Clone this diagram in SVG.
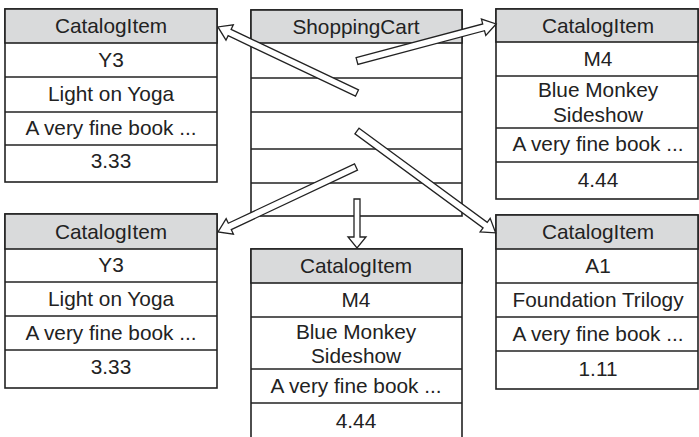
<svg xmlns="http://www.w3.org/2000/svg" width="699" height="437" viewBox="0 0 699 437">
<style>
.box{fill:#fff;stroke:#222;stroke-width:1.6}
.hdr{fill:#d9dadb;stroke:#222;stroke-width:1.6}
.ln{stroke:#222;stroke-width:1.6}
text{font-family:"Liberation Sans",Arial,sans-serif;font-size:20.8px;fill:#222;text-anchor:middle}
.arr{fill:#fff;stroke:#222;stroke-width:1.3;stroke-linejoin:miter}
</style>
<rect width="699" height="437" fill="#fff"/>

<g id="item-top-left">
<rect class="box" x="5" y="9" width="212" height="173"/>
<rect class="hdr" x="5" y="9" width="212" height="34"/>
<line class="ln" x1="5" y1="77" x2="217" y2="77"/>
<line class="ln" x1="5" y1="112" x2="217" y2="112"/>
<line class="ln" x1="5" y1="145" x2="217" y2="145"/>
<text x="111" y="33">CatalogItem</text>
<text x="111" y="67">Y3</text>
<text x="111" y="101">Light on Yoga</text>
<text x="111" y="135">A very fine book ...</text>
<text x="111" y="168">3.33</text>
</g>

<g id="shopping-cart">
<rect class="box" x="251" y="10" width="211" height="206"/>
<rect class="hdr" x="251" y="10" width="211" height="33"/>
<line class="ln" x1="251" y1="78" x2="462" y2="78"/>
<line class="ln" x1="251" y1="112" x2="462" y2="112"/>
<line class="ln" x1="251" y1="149" x2="462" y2="149"/>
<line class="ln" x1="251" y1="183" x2="462" y2="183"/>
<text x="356" y="34">ShoppingCart</text>
</g>

<g id="item-top-right">
<rect class="box" x="496" y="9" width="202" height="190"/>
<rect class="hdr" x="496" y="9" width="202" height="33"/>
<line class="ln" x1="496" y1="76" x2="698" y2="76"/>
<line class="ln" x1="496" y1="128" x2="698" y2="128"/>
<line class="ln" x1="496" y1="162" x2="698" y2="162"/>
<text x="598" y="33">CatalogItem</text>
<text x="598" y="66">M4</text>
<text x="598" y="97">Blue Monkey</text>
<text x="598" y="122">Sideshow</text>
<text x="598" y="151">A very fine book ...</text>
<text x="598" y="187">4.44</text>
</g>

<g id="item-bottom-left">
<rect class="box" x="5" y="214" width="212" height="174"/>
<rect class="hdr" x="5" y="214" width="212" height="35"/>
<line class="ln" x1="5" y1="282" x2="217" y2="282"/>
<line class="ln" x1="5" y1="316" x2="217" y2="316"/>
<line class="ln" x1="5" y1="350" x2="217" y2="350"/>
<text x="111" y="239">CatalogItem</text>
<text x="111" y="272">Y3</text>
<text x="111" y="306">Light on Yoga</text>
<text x="111" y="340">A very fine book ...</text>
<text x="111" y="374">3.33</text>
</g>

<g id="item-bottom-middle">
<rect class="box" x="251" y="249" width="211" height="192"/>
<rect class="hdr" x="251" y="249" width="211" height="34"/>
<line class="ln" x1="251" y1="317" x2="462" y2="317"/>
<line class="ln" x1="251" y1="369" x2="462" y2="369"/>
<line class="ln" x1="251" y1="403" x2="462" y2="403"/>
<text x="356" y="273">CatalogItem</text>
<text x="356" y="307">M4</text>
<text x="356" y="339">Blue Monkey</text>
<text x="356" y="363">Sideshow</text>
<text x="356" y="393">A very fine book ...</text>
<text x="356" y="428">4.44</text>
</g>

<g id="item-bottom-right">
<rect class="box" x="496" y="215" width="202" height="174"/>
<rect class="hdr" x="496" y="215" width="202" height="34"/>
<line class="ln" x1="496" y1="283" x2="698" y2="283"/>
<line class="ln" x1="496" y1="317" x2="698" y2="317"/>
<line class="ln" x1="496" y1="351" x2="698" y2="351"/>
<text x="598" y="239">CatalogItem</text>
<text x="598" y="273">A1</text>
<text x="598" y="307">Foundation Trilogy</text>
<text x="598" y="341">A very fine book ...</text>
<text x="598" y="376">1.11</text>
</g>

<g id="connectors">
<polygon class="arr" transform="translate(357,93) rotate(205.4)" points="0,-3.5 141,-3.5 141,-8.5 154,0 141,8.5 141,3.5 0,3.5"/>
<polygon class="arr" transform="translate(357,61) rotate(-14.9)" points="0,-3.5 131,-3.5 131,-8.5 144,0 131,8.5 131,3.5 0,3.5"/>
<polygon class="arr" transform="translate(357,131) rotate(36.3)" points="0,-3.5 159,-3.5 159,-8.5 172,0 159,8.5 159,3.5 0,3.5"/>
<polygon class="arr" transform="translate(356,167) rotate(154.8)" points="0,-3.5 139.5,-3.5 139.5,-8.5 152.5,0 139.5,8.5 139.5,3.5 0,3.5"/>
<polygon class="arr" transform="translate(357,199) rotate(90)" points="0,-3 38,-3 38,-9 49,0 38,9 38,3 0,3"/>
</g>
</svg>
